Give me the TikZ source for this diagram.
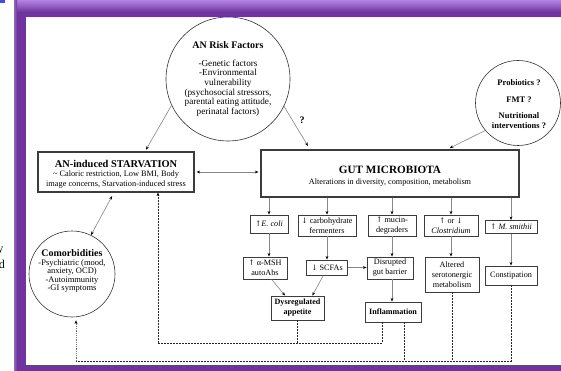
\documentclass[tikz,border=0pt]{standalone}
\usepackage{fontspec}
\setmainfont{Liberation Serif}
\newfontfamily\arrowfont{DejaVu Serif}
\newcommand{\arrup}{{\arrowfont\fontsize{7.6}{10}\selectfont\char"2191}}
\newcommand{\arrdn}{{\arrowfont\fontsize{7.6}{10}\selectfont\char"2193}}
\usetikzlibrary{arrows.meta}
\definecolor{framec}{RGB}{112,52,160}
\definecolor{frametop}{RGB}{175,125,220}
\definecolor{connc}{RGB}{135,135,135}
\definecolor{bordc}{RGB}{60,60,60}
\definecolor{cornerc}{RGB}{70,80,190}
\begin{document}
\begin{tikzpicture}[x=1pt,y=-1pt,
  tip/.style={-{Stealth[length=3.6pt,width=2.8pt,color=black]}},
  dtip/.style={{Stealth[length=3.6pt,width=2.8pt,color=black]}-{Stealth[length=3.6pt,width=2.8pt,color=black]}},
  conn/.style={draw=connc,line width=0.6pt},
  dsh/.style={draw=black!85,line width=0.5pt,dash pattern=on 1.8pt off 1.2pt},
  dot/.style={draw=black!55,line width=0.5pt,dash pattern=on 0.8pt off 1pt},
  circ/.style={draw=black!80,line width=0.6pt,circle,inner sep=0pt},
  bigbox/.style={draw=bordc,line width=1.1pt,fill=white,inner sep=0pt},
  bx/.style={draw=bordc,line width=0.9pt,fill=white,align=center,inner sep=0pt,
    font=\fontsize{8.2}{10}\selectfont},
  bbx/.style={bx,font=\fontsize{8.1}{10}\selectfont\bfseries},
  txt/.style={inner sep=0pt,align=center},
]
\useasboundingbox (0,0) rectangle (561,371);
% frame
\fill[framec] (14,1) rectangle (561,371);
\shade[top color=frametop,bottom color=framec] (14,1) rectangle (561,12);
\shade[left color=framec!75!white,right color=framec] (14,1) rectangle (17,371);
\fill[white] (26,17) rectangle (561,365);
\fill[cornerc] (0,0) rectangle (4.5,3.5);
\node[txt,anchor=base east,font=\fontsize{12}{12}\selectfont] (fragy) at (3.5,252.5) {y};
\node[txt,anchor=base east,font=\fontsize{12}{12}\selectfont] (fragd) at (5,268) {d};

% circles
\node[circ,minimum size=124pt] (risk) at (228,79) {};
\node[txt,font=\fontsize{10}{12}\selectfont\bfseries] (risktitle) at (228,45) {AN Risk Factors};
\node[txt,font=\fontsize{9.2}{9.7}\selectfont] (risktext) at (228,88) {-Genetic factors\\-Environmental\\vulnerability\\(psychosocial stressors,\\parental eating attitude,\\perinatal factors)};
\node[txt,font=\fontsize{10}{12}\selectfont\bfseries] (qmark) at (302,120) {?};

\node[circ,minimum size=85pt] (prob) at (518,103) {};
\node[txt,font=\fontsize{8.5}{10}\selectfont\bfseries] (probtext) at (519,104) {Probiotics ?\\[7pt]FMT ?\\[6pt]Nutritional\\interventions ?};

\node[circ,minimum size=86pt] (comorb) at (72,274) {};
\node[txt,font=\fontsize{10}{12}\selectfont\bfseries] (comtitle) at (72,253) {Comorbidities};
\node[txt,font=\fontsize{8.5}{8.3}\selectfont] (comtext) at (72,276) {-Psychiatric (mood,\\anxiety, OCD)\\-Autoimmunity\\-GI symptoms};

% main boxes
\node[bigbox,minimum width=156pt,minimum height=40pt] (starv) at (116,172) {};
\node[txt,font=\fontsize{10.4}{12}\selectfont\bfseries] (starvtitle) at (116,164) {AN-induced STARVATION};
\node[txt,font=\fontsize{8.3}{10}\selectfont] (starvtext) at (116,180) {\textasciitilde{} Caloric restriction, Low BMI, Body\\image concerns, Starvation-induced stress};

\node[bigbox,minimum width=258pt,minimum height=47pt] (gut) at (390,173.5) {};
\node[txt,font=\fontsize{11.2}{13}\selectfont\bfseries] (guttitle) at (390,169.5) {GUT MICROBIOTA};
\node[txt,font=\fontsize{8.2}{10}\selectfont] (guttext) at (390,183) {Alterations in diversity, composition, metabolism};

% row 1
\node[bx,minimum width=38pt,minimum height=18pt] (ecoli) at (269,224) {\arrup\textit{E. coli}};
\node[bx,minimum width=58pt,minimum height=21pt] (carb) at (327,225.5) {\arrdn{} carbohydrate\\fermenters};
\node[bx,minimum width=48pt,minimum height=21pt] (mucin) at (392,225.5) {\arrup{} mucin-\\degraders};
\node[bx,minimum width=54pt,minimum height=21pt] (clos) at (451,225.5) {\arrup{} or \arrdn\\\textit{Clostridium}};
\node[bx,minimum width=52pt,minimum height=13pt] (msm) at (511,227) {\arrup{} \textit{M. smithii}};
% row 2
\node[bx,minimum width=44pt,minimum height=22pt] (msh) at (265,268) {\arrup{} α-MSH\\autoAbs};
\node[bx,minimum width=41pt,minimum height=15pt] (scfa) at (327,267.5) {\arrdn{} SCFAs};
\node[bx,minimum width=46pt,minimum height=22pt] (disrupt) at (390,268) {Disrupted\\gut barrier};
\node[bx,minimum width=54pt,minimum height=35pt] (alter) at (452,274.5) {Altered\\serotonergic\\metabolism};
\node[bx,minimum width=52pt,minimum height=19pt] (const) at (511,275.5) {Constipation};
% row 3
\node[bbx,minimum width=53pt,minimum height=24pt] (dysreg) at (297.5,308) {Dysregulated\\appetite};
\node[bbx,minimum width=56pt,minimum height=20pt] (inflam) at (393,312) {Inflammation};

% solid connectors
\draw[conn,tip,shorten >=2pt] (risk.205) -- (starv.north -| 145,0);
\draw[conn,tip,shorten >=4pt] (risk.334) -- (gut.north -| 310,0);
\draw[conn,tip,shorten >=3pt] (prob.220) -- (gut.north -| 447,0);
\draw[conn,dtip,shorten <=2pt,shorten >=2pt] (starv.east) -- (starv.east -| gut.west);
\draw[conn,dtip,shorten <=4pt] (starv.south -| 114,0) -- (comorb.64);

\foreach \n in {ecoli,carb,mucin,clos,msm}
  \draw[conn,tip] (gut.south -| \n) -- (\n.north);
\draw[conn,tip] (ecoli.south) -- (ecoli.south |- msh.north);
\draw[conn,tip] (carb.south) -- (carb.south |- scfa.north);
\draw[conn,tip] (mucin.south) -- (mucin.south |- disrupt.north);
\draw[conn,tip] (clos.south) -- (clos.south |- alter.north);
\draw[conn,tip] (msm.south) -- (msm.south |- const.north);
\draw[conn,tip] (mucin.south |- disrupt.south) -- (mucin.south |- inflam.north);
\draw[conn,tip] (scfa.east) -- (scfa.east -| disrupt.west);
\draw[conn,tip] (msh.300) -- (dysreg.135);
\draw[conn,tip] (scfa.245) -- (dysreg.40);

% dashed feedback
\coordinate (jl) at (158,343);
\coordinate (jr) at (382,343);
\coordinate (bl) at (76,361);
\coordinate (ir) at (404,361);
\draw[dsh] (dysreg.south) -- (dysreg.south |- jl);
\draw[dsh] (jr |- inflam.south) -- (jr) -- (jl);
\draw[dsh,tip] (jl) -- (jl |- starv.south);
\draw[dsh] (const.south) -- (const.south |- bl) -- (bl);
\draw[dsh] (alter.south) -- (alter.south |- bl);
\draw[dsh] (ir |- inflam.south) -- (ir);
\draw[dot,tip,shorten >=3pt] (bl) -- (bl |- comorb.south);
\end{tikzpicture}
\end{document}
